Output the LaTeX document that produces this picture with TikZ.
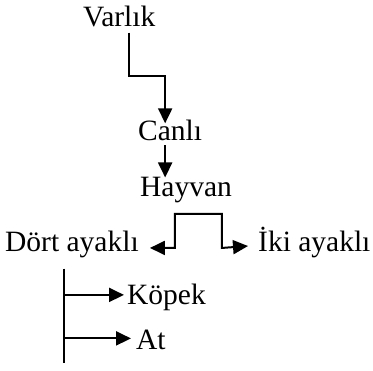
\documentclass[tikz,border=0pt]{standalone}
\usepackage{fontspec}
\setmainfont{Liberation Serif}
\usetikzlibrary{arrows.meta, positioning}

\tikzset{
    word/.style={inner sep=0pt, anchor=base west, font=\fontsize{29.5}{35}\selectfont},
    line/.style={line width=2pt},
    arr/.style={line, -{Triangle[length=15pt, width=14pt]}},
    arrs/.style={line, {Triangle[length=15pt, width=14pt]}-{Triangle[length=15pt, width=14pt]}}
}

\begin{document}
\begin{tikzpicture}[x=1pt, y=-1pt]
    \useasboundingbox (0,0) rectangle (373,371);

    % Words
    \node[word] (varlik) at (83,27) {Varlık};
    \node[word] (canli) at (138,141) {Canlı};
    \node[word] (hayvan) at (140,197) {Hayvan};
    \node[word] (dort) at (5,252) {Dört ayaklı};
    \node[word] (iki) at (258,252) {İki ayaklı};
    \node[word] (kopek) at (127,305) {Köpek};
    \node[word] (at) at (136,350) {At};

    % Varlik to Canli
    \draw[arr] (varlik.south) ++(10,5) -- ++(0,43) -| ([xshift=-5pt,yshift=-3pt]canli.north);

    % Canli to Hayvan
    \draw[arr] ([xshift=-5pt,yshift=-4pt]canli.south) -- ([xshift=-5pt]canli.south |- hayvan.north);

    % Hayvan split
    \draw[arrs] ([shift={(11pt,-3pt)}]dort.east) -- ++(25,0) -- ++(0,-34) -- ++(47,0) -- ++(0,34) -- ([shift={(-10pt,-3pt)}]iki.west);

    % Dort ayakli branches
    \draw[line] ([shift={(-8pt,-10pt)}]dort.south) coordinate (trunk) -- ++(0,94);
    \draw[arr] (trunk |- kopek.west) ++(0,-3) -- ([shift={(-3pt,3pt)}]kopek.west);
    \draw[arr] (trunk |- at.west) ++(0,-2) -- ([shift={(-5pt,2pt)}]at.west);
\end{tikzpicture}
\end{document}
